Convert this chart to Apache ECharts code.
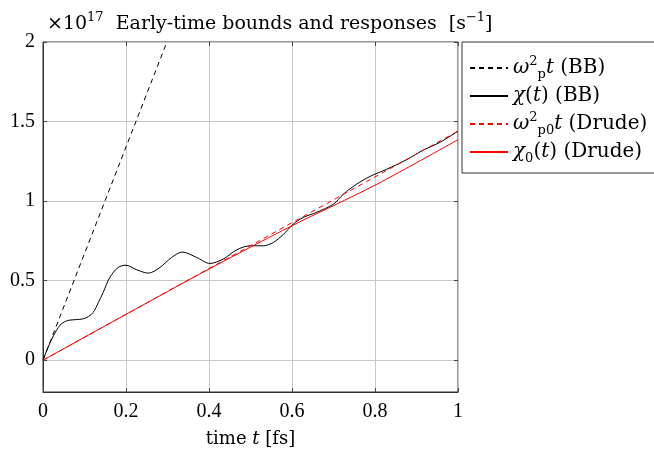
<!DOCTYPE html>
<html>
<head>
<meta charset="utf-8">
<script src="https://cdn.jsdelivr.net/npm/echarts@6/dist/echarts.min.js"></script>
<style>html,body{margin:0;padding:0;background:#fff}#c{width:654px;height:452px}</style>
</head>
<body>
<div id="c"></div>
<script>
// ---- data ----
var xTicks = [0, 0.2, 0.4, 0.6, 0.8, 1];
var yTicks = [0, 0.5, 1, 1.5, 2];
var wpBB = [[0, 0], [1, 6.7]];
var chiBB = [[0,0],[0.012,0.08],[0.025,0.153],[0.041,0.22],[0.055,0.245],[0.065,0.252],[0.08,0.255],[0.097,0.26],[0.11,0.275],[0.121,0.30],[0.133,0.36],[0.145,0.426],[0.161,0.52],[0.181,0.583],[0.2,0.597],[0.226,0.568],[0.254,0.547],[0.282,0.583],[0.31,0.646],[0.336,0.68],[0.37,0.646],[0.402,0.608],[0.434,0.635],[0.467,0.694],[0.499,0.719],[0.531,0.719],[0.555,0.74],[0.579,0.79],[0.603,0.855],[0.627,0.897],[0.66,0.93],[0.70,0.981],[0.724,1.044],[0.756,1.107],[0.788,1.155],[0.828,1.20],[0.876,1.26],[0.916,1.32],[0.957,1.37],[1.0,1.44]];
var wpDrude = [[0, 0], [1, 1.44]];
var chiDrude = [[0,0],[0.2,0.288],[0.4,0.573],[0.6,0.845],[0.8,1.10],[1,1.386]];
var names = ['wpBB', 'chiBB', 'wpDrude', 'chiDrude'];

var NUMFONT = 'Liberation Serif';
var FONT = 'DejaVu Serif';
function mkRich(size, supSize) {
  function st(o) { return Object.assign({fontFamily: FONT, color: '#000', fontWeight: 'normal'}, o); }
  return {
    n: st({fontSize: size, lineHeight: 26}),
    i: st({fontSize: size, fontStyle: 'italic', lineHeight: 26}),
    sup: st({fontSize: supSize, verticalAlign: 'top', lineHeight: 14}),
    sub: st({fontSize: supSize, verticalAlign: 'bottom', lineHeight: 12})
  };
}
var richTitle = mkRich(19, 13);
var richLegend = mkRich(20, 13);
var richName = mkRich(18, 12);
var legendText = {
  wpBB: '{i|ω}{sup|2}{sub|p}{i|t}{n| (BB)}',
  chiBB: '{i|χ}{n|(}{i|t}{n|) (BB)}',
  wpDrude: '{i|ω}{sup|2}{sub|p0}{i|t}{n| (Drude)}',
  chiDrude: '{i|χ}{sub|0}{n|(}{i|t}{n|) (Drude)}'
};

var chart = echarts.init(document.getElementById('c'), null, {renderer: 'canvas'});
var tickStyle = {show: true, inside: true, length: 4, lineStyle: {color: '#444', width: 1}};
chart.setOption({
  animation: false,
  backgroundColor: '#fff',
  title: {
    text: '{n|×10}{sup|17}{n|  Early-time bounds and responses  [s}{sup|−1}{n|]}',
    left: 42, top: 6,
    textStyle: {rich: richTitle, fontWeight: 'normal'}
  },
  grid: {left: 43, right: 196, top: 42, bottom: 60, outerBoundsMode: 'none', containLabel: false, show: true, borderColor: '#333', borderWidth: 1, backgroundColor: 'transparent'},
  legend: {
    orient: 'vertical', left: 462, top: 42,
    data: names,
    itemWidth: 38, itemHeight: 14, itemGap: 2,
    padding: [13, 30, 8, 7],
    borderColor: '#333', borderWidth: 1, borderRadius: 0,
    itemStyle: {opacity: 0, borderWidth: 0},
    formatter: function (n) { return legendText[n]; },
    textStyle: {rich: richLegend, lineHeight: 26, padding: [0, 0, 0, 0]}
  },
  xAxis: [{
    type: 'value', min: 0, max: 1, interval: 0.2,
    name: '{n|time }{i|t}{n| [fs]}', nameLocation: 'middle', nameGap: 34,
    nameTextStyle: {rich: richName},
    axisLine: {show: true, onZero: false, lineStyle: {color: '#333'}},
    axisTick: tickStyle,
    axisLabel: {fontFamily: NUMFONT, fontSize: 20, color: '#000', margin: 10, formatter: function (v) { return String(+v.toFixed(1)); }},
    splitLine: {show: true, lineStyle: {color: '#c8c8c8', width: 1}}
  }, {
    type: 'value', min: 0, max: 1, interval: 0.2, position: 'top',
    axisLine: {show: false, onZero: false}, axisTick: tickStyle, axisLabel: {show: false}, splitLine: {show: false}
  }],
  yAxis: [{
    type: 'value', min: -0.2, max: 2,
    axisLine: {show: true, onZero: false, lineStyle: {color: '#333'}},
    axisTick: Object.assign({customValues: yTicks}, tickStyle),
    axisLabel: {customValues: yTicks, fontFamily: NUMFONT, fontSize: 20, color: '#000', margin: 8, formatter: function (v) { return String(+v.toFixed(1)); }},
    splitLine: {show: true, lineStyle: {color: '#c8c8c8', width: 1}}
  }, {
    type: 'value', min: -0.2, max: 2, position: 'right',
    axisLine: {show: false, onZero: false},
    axisTick: Object.assign({customValues: yTicks}, tickStyle),
    axisLabel: {show: false, customValues: yTicks}, splitLine: {show: false}
  }],
  series: [
    {name: 'wpBB', type: 'line', data: wpBB, symbol: 'none', clip: true, lineStyle: {color: '#000', width: 1, type: [5, 4]}, itemStyle: {color: '#000'}},
    {name: 'chiBB', type: 'line', data: chiBB, symbol: 'none', smooth: 0.3, lineStyle: {color: '#000', width: 1}, itemStyle: {color: '#000'}},
    {name: 'wpDrude', type: 'line', data: wpDrude, symbol: 'none', lineStyle: {color: '#ff0000', width: 1, type: [5, 4]}, itemStyle: {color: '#ff0000'}},
    {name: 'chiDrude', type: 'line', data: chiDrude, symbol: 'none', smooth: 0.3, lineStyle: {color: '#ff0000', width: 1}, itemStyle: {color: '#ff0000'}}
  ]
});
</script>
</body>
</html>
